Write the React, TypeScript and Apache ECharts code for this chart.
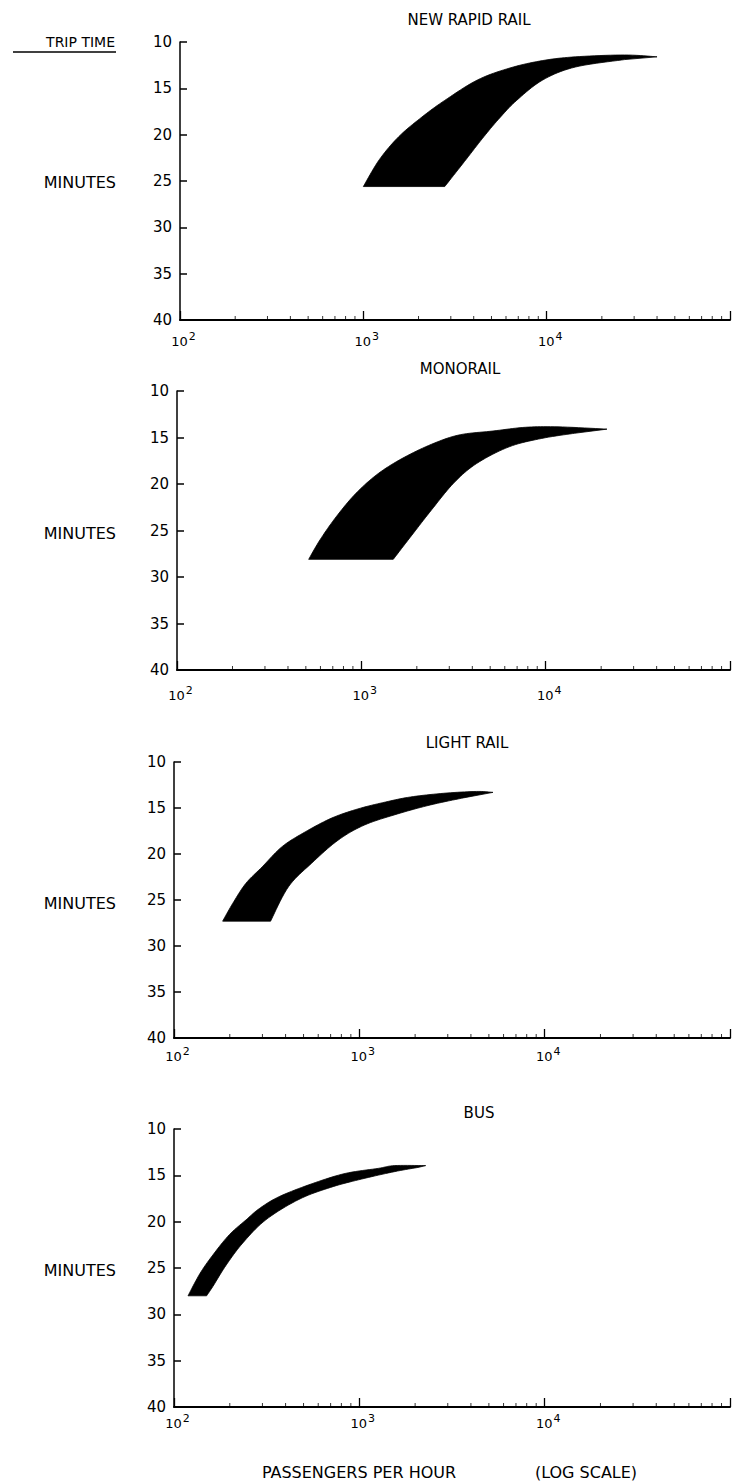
import React, { useEffect, useRef } from "react";
import * as echarts from "echarts";

// ---------- data ----------
const panelTitles = ["NEW RAPID RAIL", "MONORAIL", "LIGHT RAIL", "BUS"];
const yTickMin = 10;
const yTickMax = 40;
const yTickStep = 5;
const xMinValue = 100;
const xMaxValue = 100000;
const xMinorTicks = [
  200, 300, 400, 500, 600, 700, 800, 900,
  2000, 3000, 4000, 5000, 6000, 7000, 8000, 9000,
  20000, 30000, 40000, 50000, 60000, 70000, 80000, 90000,
];

// band outlines: [passengers per hour, minutes]
const rapidRailFast = [
  [1000, 25.6], [1222, 22.7], [1563, 20.2], [2086, 18.1], [2780, 16.3], [4190, 14.1],
  [6310, 12.8], [9520, 12.0], [14350, 11.6], [26560, 11.4], [40000, 11.6],
];
const rapidRailSlow = [
  [26560, 11.9], [14350, 12.7], [9520, 14.1], [6860, 16.3], [5540, 18.2], [4550, 20.2],
  [3560, 22.9], [2780, 25.6],
];

const monorailFast = [
  [518, 28.1], [597, 26.0], [732, 23.5], [935, 21.0], [1240, 18.85], [1720, 17.1],
  [2490, 15.6], [3440, 14.7], [5180, 14.3], [7770, 13.9], [11670, 13.85], [21500, 14.1],
];
const monorailSlow = [
  [14300, 14.55], [9520, 15.1], [6340, 16.0], [4220, 17.8], [3170, 19.9], [2400, 22.8],
  [1880, 25.5], [1490, 28.1],
];

const lightRailFast = [
  [183, 27.3], [207, 25.4], [244, 23.2], [299, 21.4], [383, 19.2], [510, 17.6], [708, 16.1],
  [982, 15.1], [1384, 14.35], [1890, 13.8], [2850, 13.4], [4290, 13.2], [5260, 13.3],
];
const lightRailSlow = [
  [3640, 13.9], [2415, 14.67], [1605, 15.65], [1066, 16.85], [768, 18.5], [553, 21.0],
  [415, 23.55], [332, 27.3],
];

const busFast = [
  [119, 28.0], [138, 25.6], [162, 23.6], [199, 21.4], [245, 19.8], [288, 18.6], [369, 17.3],
  [556, 15.9], [838, 14.8], [1263, 14.25], [1550, 13.95], [2280, 13.95],
];
const busSlow = [
  [2070, 14.15], [1550, 14.6], [1030, 15.4], [700, 16.3], [472, 17.6], [313, 19.8],
  [235, 22.3], [191, 24.7], [162, 27.0], [150, 28.0],
];

const bands = [
  [rapidRailFast, rapidRailSlow],
  [monorailFast, monorailSlow],
  [lightRailFast, lightRailSlow],
  [busFast, busSlow],
];

// ---------- layout ----------
const grids = [
  { left: 180, top: 42, width: 561, height: 278 },
  { left: 177, top: 391, width: 566, height: 279 },
  { left: 174, top: 762, width: 563, height: 276 },
  { left: 174, top: 1129, width: 561, height: 278 },
];
const xLabelMargins = [11, 15, 8, 6];
const titlePos = [
  [469, 20],
  [460, 369],
  [467, 743],
  [479, 1113],
];
const minutesY = [182, 533, 903, 1270];

const FONT = "DejaVu Sans";

// Catmull-Rom sampling in pixel space
function smoothEdge(pts: number[][], steps: number): number[][] {
  const out: number[][] = [];
  const n = pts.length;
  for (let i = 0; i < n - 1; i++) {
    const p0 = pts[Math.max(0, i - 1)];
    const p1 = pts[i];
    const p2 = pts[i + 1];
    const p3 = pts[Math.min(n - 1, i + 2)];
    for (let s = 0; s < steps; s++) {
      const t = s / steps;
      const t2 = t * t;
      const t3 = t2 * t;
      const c = (k: number) =>
        0.5 *
        (2 * p1[k] +
          (-p0[k] + p2[k]) * t +
          (2 * p0[k] - 5 * p1[k] + 4 * p2[k] - p3[k]) * t2 +
          (-p0[k] + 3 * p1[k] - 3 * p2[k] + p3[k]) * t3);
      out.push([c(0), c(1)]);
    }
  }
  out.push(pts[n - 1]);
  return out;
}

export default function App() {
  const ref = useRef<HTMLDivElement>(null);

  useEffect(() => {
    if (!ref.current) return;
    const chart = echarts.init(ref.current, null, { renderer: "svg" });

    const xAxes = grids.map((_, i) => ({
      gridIndex: i,
      type: "log",
      logBase: 10,
      min: xMinValue,
      max: xMaxValue,
      axisLine: { show: true, lineStyle: { color: "#000", width: 2 } },
      axisTick: { show: true, inside: true, length: 9, lineStyle: { color: "#000", width: 1.3 } },
      splitLine: { show: false },
      axisLabel: {
        margin: xLabelMargins[i],
        color: "#000",
        formatter: (v: number) => {
          if (v >= xMaxValue) return "";
          const e = Math.round(Math.log10(v));
          return "{p|}{b|10}{s|" + e + "}";
        },
        rich: {
          p: { width: 7 },
          b: { fontSize: 13, fontFamily: FONT, color: "#000" },
          s: { fontSize: 11, fontFamily: FONT, color: "#000", width: 7, padding: [0, 0, 9, 1] },
        },
      },
    }));

    const yAxes = grids.map((_, i) => ({
      gridIndex: i,
      type: "value",
      inverse: true,
      min: yTickMin,
      max: yTickMax,
      interval: yTickStep,
      axisLine: { show: true, lineStyle: { color: "#000", width: 1.5 } },
      axisTick: { show: true, inside: true, length: 7, lineStyle: { color: "#000", width: 1.5 } },
      splitLine: { show: false },
      axisLabel: { color: "#000", fontSize: 15, fontFamily: FONT, margin: 8 },
    }));

    const series: any[] = [];
    bands.forEach(([fast, slow], i) => {
      const outline = [...fast, ...slow];
      series.push({
        type: "custom",
        xAxisIndex: i,
        yAxisIndex: i,
        silent: true,
        encode: { x: 0, y: 1 },
        data: outline,
        renderItem: (params: any, api: any) => {
          if (params.dataIndex !== 0) return null;
          const fastPx = fast.map((p) => api.coord(p));
          const slowPx = slow.map((p) => api.coord(p));
          const pts = [...smoothEdge(fastPx, 10), ...smoothEdge(slowPx, 10)];
          return {
            type: "polygon",
            shape: { points: pts },
            style: { fill: "#000", stroke: "#000", lineWidth: 0.8 },
          };
        },
      });
      series.push({
        type: "scatter",
        xAxisIndex: i,
        yAxisIndex: i,
        silent: true,
        symbol: "rect",
        symbolSize: [1, 4],
        symbolOffset: [0, -2],
        itemStyle: { color: "#000" },
        data: xMinorTicks.map((v) => [v, yTickMax]),
      });
    });

    const graphics: any[] = [];
    panelTitles.forEach((t, i) => {
      graphics.push({
        type: "text",
        x: titlePos[i][0],
        y: titlePos[i][1],
        style: {
          text: t,
          fill: "#000",
          font: `15px "${FONT}"`,
          textAlign: "center",
          textVerticalAlign: "middle",
        },
      });
    });
    minutesY.forEach((y) => {
      graphics.push({
        type: "text",
        x: 116,
        y,
        style: {
          text: "MINUTES",
          fill: "#000",
          font: `16px "${FONT}"`,
          textAlign: "right",
          textVerticalAlign: "middle",
        },
      });
    });
    graphics.push({
      type: "text",
      x: 115,
      y: 42,
      style: {
        text: "TRIP TIME",
        fill: "#000",
        font: `14px "${FONT}"`,
        textAlign: "right",
        textVerticalAlign: "middle",
      },
    });
    graphics.push({
      type: "line",
      shape: { x1: 13, y1: 52, x2: 116, y2: 52 },
      style: { stroke: "#000", lineWidth: 1.5 },
    });
    graphics.push({
      type: "text",
      x: 359,
      y: 1472,
      style: {
        text: "PASSENGERS PER HOUR",
        fill: "#000",
        font: `16px "${FONT}"`,
        textAlign: "center",
        textVerticalAlign: "middle",
      },
    });
    graphics.push({
      type: "text",
      x: 586,
      y: 1472,
      style: {
        text: "(LOG SCALE)",
        fill: "#000",
        font: `16px "${FONT}"`,
        textAlign: "center",
        textVerticalAlign: "middle",
      },
    });

    chart.setOption({
      animation: false,
      backgroundColor: "#fff",
      grid: grids,
      xAxis: xAxes,
      yAxis: yAxes,
      series,
      graphic: graphics,
    });

    return () => chart.dispose();
  }, []);

  return (
    <div
      ref={ref}
      style={{ position: "absolute", left: 0, top: 0, width: 733, height: 1484, background: "#fff" }}
    />
  );
}
